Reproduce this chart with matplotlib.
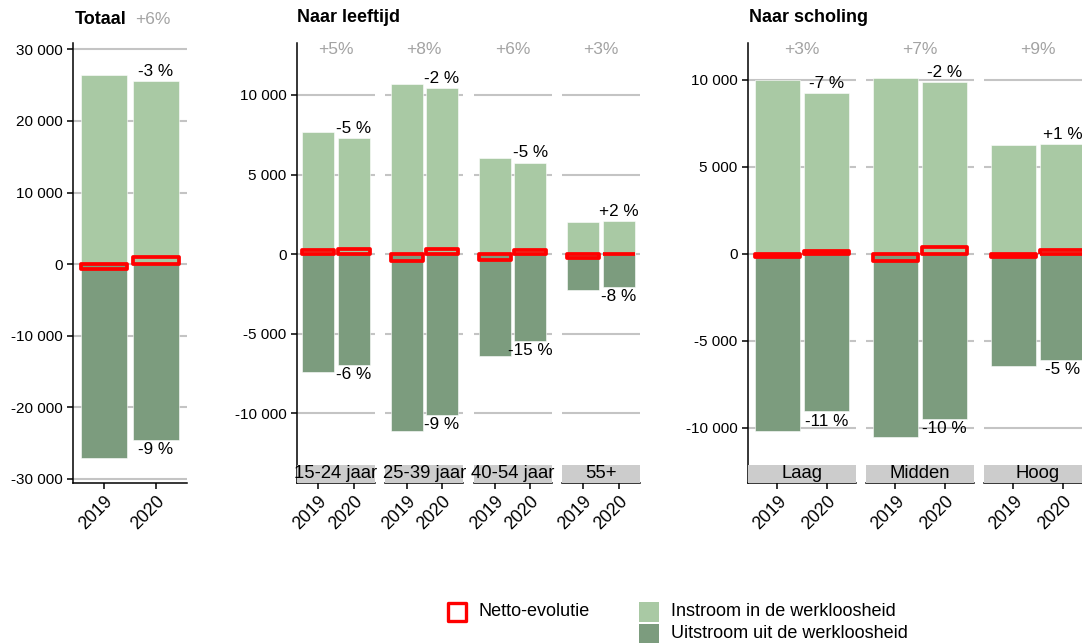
import matplotlib
matplotlib.use("Agg")
import matplotlib.pyplot as plt
from matplotlib.patches import Rectangle
from matplotlib.ticker import FuncFormatter

plt.rcParams['font.family'] = ['Liberation Sans', 'DejaVu Sans']

# data
jaren = ['2019', '2020']

totaal_in = [26430, 25590]
totaal_uit = [-27130, -24620]
totaal_pct = ['-3 %', '-9 %']
totaal_stock = '+6%'

leeftijd_groepen = ['15-24 jaar', '25-39 jaar', '40-54 jaar', '55+']
leeftijd_in = [[7670, 7300], [10690, 10440], [6040, 5750], [2010, 2050]]
leeftijd_uit = [[-7420, -6980], [-11130, -10130], [-6420, -5470], [-2260, -2080]]
leeftijd_pct_in = ['-5 %', '-2 %', '-5 %', '+2 %']
leeftijd_pct_uit = ['-6 %', '-9 %', '-15 %', '-8 %']
leeftijd_stock = ['+5%', '+8%', '+6%', '+3%']

scholing_groepen = ['Laag', 'Midden', 'Hoog']
scholing_in = [[10000, 9250], [10120, 9890], [6260, 6320]]
scholing_uit = [[-10170, -9050], [-10520, -9480], [-6440, -6090]]
scholing_pct_in = ['-7 %', '-2 %', '+1 %']
scholing_pct_uit = ['-11 %', '-10 %', '-5 %']
scholing_stock = ['+3%', '+7%', '+9%']

totaal_ticks = [-30000, -20000, -10000, 0, 10000, 20000, 30000]
groep_ticks = [-10000, -5000, 0, 5000, 10000]

C_IN = '#a9c9a4'
C_UIT = '#7c9c7e'
C_NET = '#ff0000'
C_GRID = '#c4c4c4'
C_STOCK = '#a3a3a3'

W, H = 1082, 643
fig = plt.figure(figsize=(W / 100, H / 100), dpi=100)
fmt = FuncFormatter(lambda v, p: f"{int(v):,}".replace(',', ' '))


def px_axes(x0, x1, y0=43, y1=483):
    return fig.add_axes([x0 / W, 1 - y1 / H, (x1 - x0) / W, (y1 - y0) / H])


def facet(ax, vin, vuit, pct_in, pct_uit, ylim, ticks, first, strip=None, stock=None):
    x = [1, 2]
    net = [a + b for a, b in zip(vin, vuit)]
    ax.bar(x, vin, width=0.9, color=C_IN, edgecolor='white', linewidth=0.4, zorder=2)
    ax.bar(x, vuit, width=0.9, color=C_UIT, edgecolor='white', linewidth=0.4, zorder=2)
    ax.bar(x, net, width=0.9, fill=False, edgecolor=C_NET, linewidth=2.7,
           joinstyle='round', zorder=3)
    ax.annotate(pct_in, (2, vin[1]), xytext=(0, 1.5), textcoords='offset points',
                ha='center', va='bottom', fontsize=12.3, annotation_clip=False)
    ax.annotate(pct_uit, (2, vuit[1]), xytext=(0, -1.5), textcoords='offset points',
                ha='center', va='top', fontsize=12.3, annotation_clip=False)
    ax.set_xlim(0.4, 2.6)
    ax.set_ylim(*ylim)
    ax.set_yticks(ticks)
    ax.yaxis.set_major_formatter(fmt)
    ax.set_xticks(x)
    ax.set_xticklabels(jaren, rotation=45, ha='right', rotation_mode='anchor')
    ax.tick_params(axis='both', length=4, width=1.1, color='black', labelsize=11)
    ax.tick_params(axis='x', labelsize=12.8, pad=3)
    ax.yaxis.grid(True, color=C_GRID, linewidth=1.5)
    ax.set_axisbelow(True)
    for s in ['top', 'right']:
        ax.spines[s].set_visible(False)
    ax.spines['bottom'].set_linewidth(1.1)
    ax.spines['left'].set_linewidth(1.1)
    if not first:
        ax.spines['left'].set_visible(False)
        ax.tick_params(axis='y', left=False, labelleft=False)
    if strip is not None:
        h = 18 / 440
        r = Rectangle((0, 0), 1, h, transform=ax.transAxes, facecolor='#cccccc',
                      edgecolor='none', clip_on=False, zorder=6)
        ax.add_patch(r)
        t = ax.text(0.5, h / 2, strip, transform=ax.transAxes, ha='center', va='center',
                    fontsize=13.3, zorder=7)
        t.set_clip_path(r)
    if stock is not None:
        ax.text(0.5, (483 - 50) / 440, stock, transform=ax.transAxes, ha='center',
                va='center', fontsize=12.5, color=C_STOCK)


# Totaal
ax = px_axes(73, 187)
facet(ax, totaal_in, totaal_uit, totaal_pct[0], totaal_pct[1], (-30629, 30909),
      totaal_ticks, True)
fig.text(75 / W, 1 - 20 / H, 'Totaal', fontsize=13, fontweight='bold', va='center')
fig.text(135 / W, 1 - 19 / H, totaal_stock, fontsize=12.5, color=C_STOCK, va='center')

# Naar leeftijd
for i, g in enumerate(leeftijd_groepen):
    x0 = 297 + i * 88.3
    ax = px_axes(x0, x0 + 78)
    facet(ax, leeftijd_in[i], leeftijd_uit[i], leeftijd_pct_in[i], leeftijd_pct_uit[i],
          (-14400, 13270), groep_ticks, i == 0, strip=g, stock=leeftijd_stock[i])
fig.text(297 / W, 1 - 18 / H, 'Naar leeftijd', fontsize=13, fontweight='bold', va='center')

# Naar scholing
for i, g in enumerate(scholing_groepen):
    x0 = 748 + i * 118
    ax = px_axes(x0, x0 + 108)
    facet(ax, scholing_in[i], scholing_uit[i], scholing_pct_in[i], scholing_pct_uit[i],
          (-13161, 12126), groep_ticks, i == 0, strip=g, stock=scholing_stock[i])
fig.text(749 / W, 1 - 18 / H, 'Naar scholing', fontsize=13, fontweight='bold', va='center')

# legend
fig.add_artist(Rectangle((448 / W, 1 - 621 / H), 18 / W, 18 / H, transform=fig.transFigure,
                         fill=False, edgecolor=C_NET, linewidth=2.4, joinstyle='round'))
fig.text(479 / W, 1 - 612 / H, 'Netto-evolutie', fontsize=13, va='center')
fig.add_artist(Rectangle((639 / W, 1 - 622 / H), 20 / W, 20 / H, transform=fig.transFigure,
                         facecolor=C_IN, edgecolor='none'))
fig.add_artist(Rectangle((639 / W, 1 - 644 / H), 20 / W, 20 / H, transform=fig.transFigure,
                         facecolor=C_UIT, edgecolor='none'))
fig.text(671 / W, 1 - 612 / H, 'Instroom in de werkloosheid', fontsize=13, va='center')
fig.text(671 / W, 1 - 634 / H, 'Uitstroom uit de werkloosheid', fontsize=13, va='center')

fig.savefig('out.png', dpi=100)
